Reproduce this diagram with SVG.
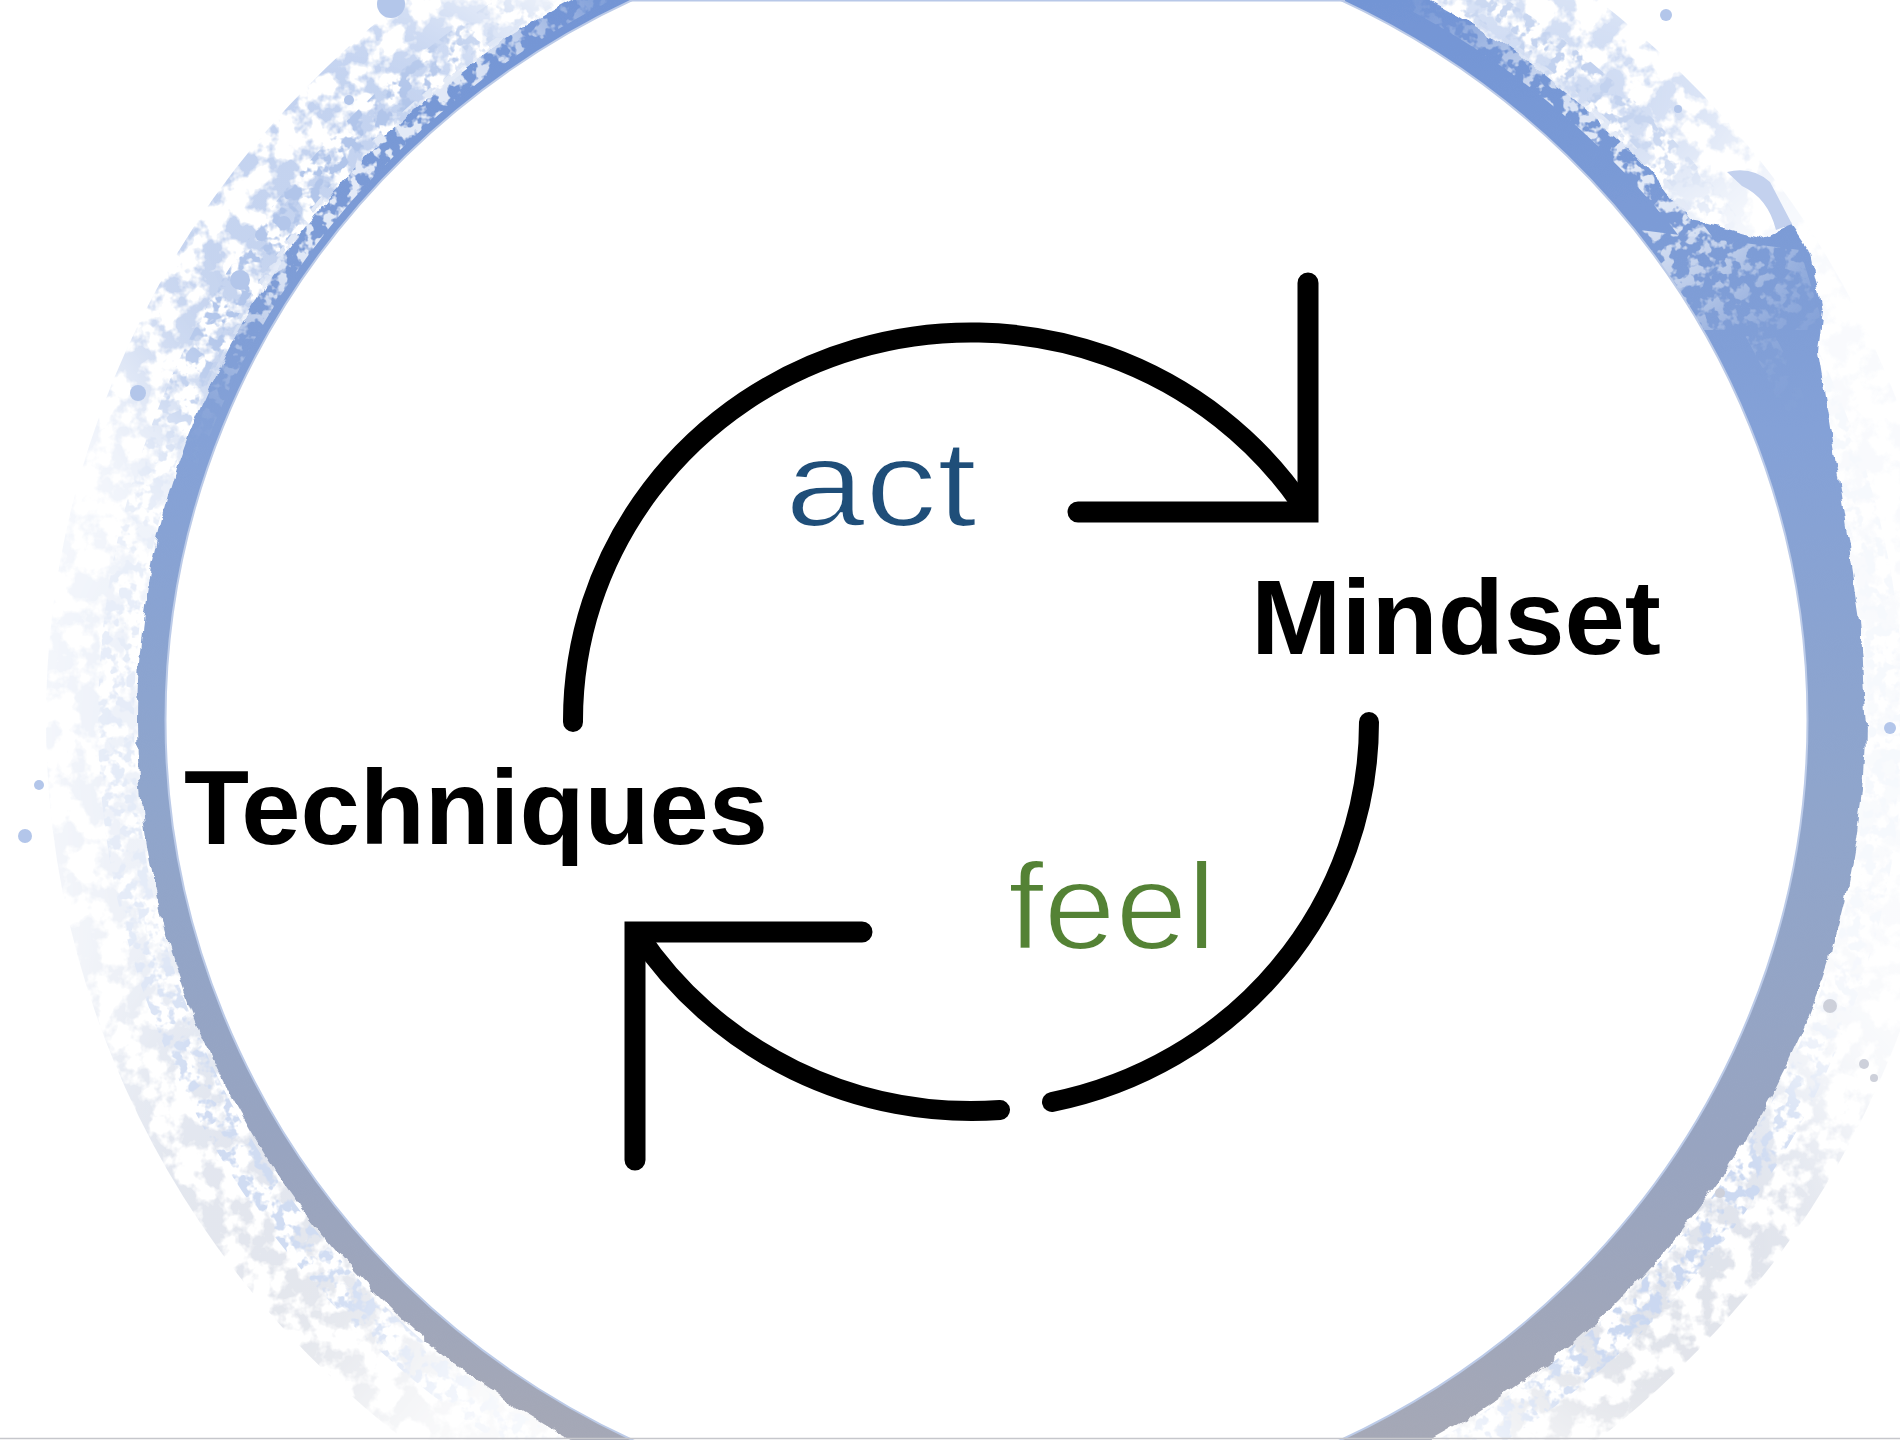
<svg xmlns="http://www.w3.org/2000/svg" width="1900" height="1440" viewBox="0 0 1900 1440">
  <defs>
    <style>
      .lbl-bold { font-family: 'Liberation Sans', Arial, sans-serif; font-weight: 700; font-size: 106px; fill: #000000; }
      .lbl-verb { font-family: 'Liberation Sans', Arial, sans-serif; font-weight: 400; font-size: 122px; stroke: #ffffff; stroke-width: 2.2px; }
      .conn { fill: none; stroke: #000000; stroke-width: 20; stroke-linecap: round; }
      .head { fill: none; stroke: #000000; stroke-width: 21; stroke-linecap: round; stroke-linejoin: miter; stroke-miterlimit: 10; }
      .dot { fill: #b3c6ea; }
      .dotg { fill: #cdd0da; }
    </style>
    <linearGradient id="ringGrad" gradientUnits="userSpaceOnUse" x1="0" y1="0" x2="0" y2="1440">
      <stop offset="0" stop-color="#7395d5"/>
      <stop offset="0.3" stop-color="#84a1d7"/>
      <stop offset="0.55" stop-color="#8fa5cc"/>
      <stop offset="0.8" stop-color="#98a4c0"/>
      <stop offset="1" stop-color="#a5a8b6"/>
    </linearGradient>
    <linearGradient id="splatGrad" gradientUnits="userSpaceOnUse" x1="0" y1="0" x2="0" y2="1440">
      <stop offset="0" stop-color="#c2d2f0"/>
      <stop offset="0.5" stop-color="#cbd7ee"/>
      <stop offset="1" stop-color="#d3d6de"/>
    </linearGradient>
    <filter id="mottle" x="-10%" y="-10%" width="120%" height="120%">
      <feTurbulence type="fractalNoise" baseFrequency="0.04" numOctaves="4" seed="7" result="noise"/>
      <feColorMatrix in="noise" type="matrix" values="0 0 0 0 0  0 0 0 0 0  0 0 0 0 0  0 0 0 7 -3.1" result="mask"/>
      <feComposite in="SourceGraphic" in2="mask" operator="in"/>
    </filter>
    <filter id="mottleFine" x="-10%" y="-10%" width="120%" height="120%">
      <feTurbulence type="fractalNoise" baseFrequency="0.08" numOctaves="3" seed="11" result="noise"/>
      <feColorMatrix in="noise" type="matrix" values="0 0 0 0 0  0 0 0 0 0  0 0 0 0 0  0 0 0 8 -3.9" result="mask"/>
      <feComposite in="SourceGraphic" in2="mask" operator="in"/>
    </filter>
    <filter id="rough" x="-5%" y="-5%" width="110%" height="110%">
      <feTurbulence type="fractalNoise" baseFrequency="0.05" numOctaves="3" seed="2" result="t"/>
      <feDisplacementMap in="SourceGraphic" in2="t" scale="10" xChannelSelector="R" yChannelSelector="G"/>
    </filter>
    <filter id="soft" x="-50%" y="-50%" width="200%" height="200%">
      <feGaussianBlur stdDeviation="60"/>
    </filter>
    <mask id="splatMask" maskUnits="userSpaceOnUse" x="0" y="0" width="1900" height="1440">
      <rect width="1900" height="1440" fill="#1c1c1c"/>
      <g filter="url(#soft)">
        <ellipse cx="330" cy="220" rx="260" ry="260" fill="#ffffff"/>
        <ellipse cx="1500" cy="90" rx="260" ry="140" fill="#cccccc"/>
        <ellipse cx="250" cy="1200" rx="190" ry="260" fill="#999999"/>
        <ellipse cx="1660" cy="1250" rx="210" ry="220" fill="#aaaaaa"/>
        <ellipse cx="130" cy="760" rx="70" ry="280" fill="#666666"/>
      </g>
    </mask>
    <mask id="patchMask" maskUnits="userSpaceOnUse" x="0" y="0" width="1900" height="1440">
      <g filter="url(#soft)">
        <ellipse cx="380" cy="170" rx="230" ry="220" fill="#ffffff"/>
        <ellipse cx="1600" cy="180" rx="200" ry="160" fill="#ffffff"/>
      </g>
    </mask>
  </defs>

  <rect width="1900" height="1440" fill="#ffffff"/>

  <g id="background">
    <!-- watercolour splatter outside the ring -->
    <g mask="url(#splatMask)">
      <g filter="url(#mottle)">
        <ellipse cx="1001" cy="720" rx="905" ry="872" fill="none" stroke="url(#splatGrad)" stroke-width="100"/>
      </g>
      <g filter="url(#mottleFine)">
        <ellipse cx="1001" cy="720" rx="885" ry="851" fill="none" stroke="#b1c5ea" stroke-width="36"/>
      </g>
    </g>
    <!-- the blue ring -->
    <g filter="url(#rough)">
      <ellipse cx="1001" cy="720" rx="864" ry="830" fill="url(#ringGrad)"/>
      <path d="M1598 150 L1640 212 L1700 222 L1760 238 L1790 224 L1812 256 L1823 310 L1818 352 L1832 440 L1845 520 L1860 620 L1867 726 L1848 735 L1843 880 L1830 960 L1790 960 L1700 400 Z" fill="url(#ringGrad)"/>
    </g>
    <path d="M1727 172 Q1752 166 1770 182 L1792 224 L1776 230 Q1768 198 1742 186 Z" fill="#c3d1ee"/>
    <!-- light patches on the ring's outer half (top-left, top-right) -->
    <g mask="url(#patchMask)">
      <g filter="url(#mottleFine)">
        <ellipse cx="1001" cy="720" rx="858" ry="824" fill="none" stroke="#e3eaf7" stroke-width="26"/>
        <path d="M1640 230 L1800 250 L1825 330 L1700 330 Z" fill="#d9e2f3"/>
      </g>
    </g>
    <!-- splatter dots -->
    <circle class="dot" cx="138" cy="393" r="8"/>
    <circle class="dot" cx="240" cy="280" r="10"/>
    <circle class="dot" cx="261" cy="235" r="6"/>
    <circle class="dot" cx="284" cy="223" r="7"/>
    <circle class="dot" cx="349" cy="100" r="5"/>
    <circle class="dot" cx="391" cy="4" r="14"/>
    <circle class="dot" cx="39" cy="785" r="5"/>
    <circle class="dot" cx="25" cy="836" r="7"/>
    <circle class="dot" cx="1666" cy="15" r="6"/>
    <circle class="dot" cx="1678" cy="109" r="4"/>
    <circle class="dot" cx="1890" cy="728" r="6"/>
    <circle class="dotg" cx="1830" cy="1006" r="7"/>
    <circle class="dotg" cx="1864" cy="1064" r="5"/>
    <circle class="dotg" cx="1874" cy="1078" r="4"/>
    <circle class="dotg" cx="1720" cy="1193" r="5"/>
    <!-- white centre -->
    <ellipse cx="986.5" cy="720" rx="821" ry="798" fill="#ffffff" stroke="#bccbe8" stroke-width="2"/>
    <line x1="630" y1="0.75" x2="1345" y2="0.75" stroke="#b8c8e8" stroke-width="1.5"/>
    <line x1="0" y1="1438.5" x2="1900" y2="1438.5" stroke="#c6c7cc" stroke-width="1.5"/>
  </g>

  <g id="connectors">
    <path class="conn" d="M573 722 A398 388 0 0 1 1304 508"/>
    <path class="head" d="M1308 283 L1308 512 L1078 512"/>
    <path class="conn" d="M1369 722 A398 388 0 0 1 1052 1102"/>
    <path class="conn" d="M1000 1110 A398 388 0 0 1 638 934"/>
    <path class="head" d="M862 932 L635 932 L635 1160"/>
  </g>

  <g id="node-act">
    <text class="lbl-verb" x="785" y="526" fill="#1F4E79" textLength="192" lengthAdjust="spacingAndGlyphs">act</text>
  </g>
  <g id="node-mindset">
    <text class="lbl-bold" x="1251" y="654" textLength="410" lengthAdjust="spacingAndGlyphs">Mindset</text>
  </g>
  <g id="node-feel">
    <text class="lbl-verb" x="1008" y="949" fill="#548235" textLength="208" lengthAdjust="spacingAndGlyphs">feel</text>
  </g>
  <g id="node-techniques">
    <text class="lbl-bold" x="184" y="844" textLength="584" lengthAdjust="spacingAndGlyphs">Techniques</text>
  </g>
</svg>
